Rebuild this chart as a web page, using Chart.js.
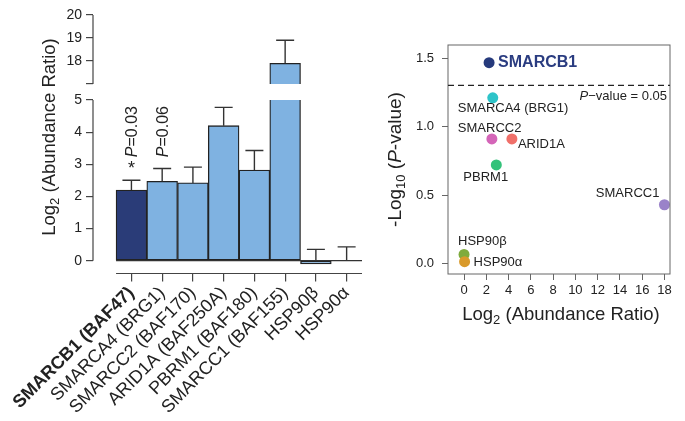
<!DOCTYPE html>
<html>
<head>
<meta charset="utf-8">
<script src="https://cdn.jsdelivr.net/npm/chart.js@4.4.0/dist/chart.umd.min.js"></script>
<style>
    body { margin: 0; background: #fff; }
    #wrap { position: relative; width: 685px; height: 421px; }
    canvas { position: absolute; top: 0; }
</style>
</head>
<body>
<div id="wrap">
    <canvas id="barLow" width="380" height="421" style="left:0"></canvas>
    <canvas id="barHigh" width="380" height="421" style="left:0"></canvas>
    <canvas id="volcano" width="305" height="421" style="left:380px"></canvas>
</div>
<script>
// bar chart (left)
const categories = ['SMARCB1 (BAF47)', 'SMARCA4 (BRG1)', 'SMARCC2 (BAF170)', 'ARID1A (BAF250A)',
    'PBRM1 (BAF180)', 'SMARCC1 (BAF155)', 'HSP90β', 'HSP90α'];
const ratios = [2.2, 2.47, 2.42, 4.2, 2.82, 17.9, -0.1, 0.0];
const ratioErrTop = [2.5, 2.87, 2.91, 4.77, 3.43, 18.9, 0.35, 0.43];
const pLabels = ['P=0.03', 'P=0.06'];
const lowTicks = [0, 1, 2, 3, 4, 5];
const highTicks = [17, 18, 19, 20];

// volcano plot (right)
const proteins = ['SMARCB1', 'SMARCA4 (BRG1)', 'SMARCC2', 'ARID1A', 'PBRM1', 'SMARCC1', 'HSP90β', 'HSP90α'];
const log2Ratio = [2.25, 2.58, 2.5, 4.3, 2.9, 18.0, 0.0, 0.05];
const negLogP = [1.466, 1.21, 0.91, 0.91, 0.72, 0.43, 0.068, 0.015];
const xTicks = [0, 2, 4, 6, 8, 10, 12, 14, 16, 18];
const yTicks = [0, 0.5, 1.0, 1.5];
const pCutoff = 1.301;

const FONT = "'Liberation Sans', Arial, sans-serif";
const TEXT = '#222';
const AXIS = '#444';
const barColors = categories.map((c, i) => i === 0 ? '#2a3c78' : '#7fb2e1');
const dotColors = ['#263a7c', '#2ec4c9', '#d465b8', '#f0706a', '#34c27a', '#9a82c9', '#7eab3c', '#d99a2b'];

// draw text made of pieces (subscript / italic / bold)
function richText(ctx, parts, x, y, size, align) {
    let widths = parts.map(p => {
        ctx.font = fontOf(p, size);
        return ctx.measureText(p.t).width;
    });
    let total = widths.reduce((a, b) => a + b, 0);
    let cx = align === 'center' ? x - total / 2 : align === 'right' ? x - total : x;
    parts.forEach((p, i) => {
        ctx.font = fontOf(p, size);
        ctx.fillText(p.t, cx, p.sub ? y + size * 0.3 : y);
        cx += widths[i];
    });
}
function fontOf(p, size) {
    let s = p.sub ? Math.round(size * 0.68) : size;
    return (p.it ? 'italic ' : '') + (p.b ? 'bold ' : '') + s + 'px ' + FONT;
}

const barAxes = {
    id: 'barAxes',
    afterDatasetsDraw(chart, args, opts) {
        const ctx = chart.ctx;
        const x = chart.scales.x, y = chart.scales.y;
        const area = chart.chartArea;
        ctx.save();
        ctx.strokeStyle = AXIS;
        ctx.lineWidth = 1.2;
        // y axis line, only across the ticks range
        ctx.beginPath();
        ctx.moveTo(area.left, y.getPixelForValue(opts.yFrom));
        ctx.lineTo(area.left, y.getPixelForValue(opts.yTo));
        ctx.stroke();
        ctx.beginPath();
        ctx.rect(area.left, area.top, area.right - area.left, area.bottom - area.top);
        ctx.clip();
        // error bars
        ctx.strokeStyle = '#333';
        ctx.lineWidth = 1.4;
        ratios.forEach((v, i) => {
            let px = x.getPixelForValue(i);
            let top = y.getPixelForValue(ratioErrTop[i]);
            ctx.beginPath();
            ctx.moveTo(px, y.getPixelForValue(Math.max(v, 0)));
            ctx.lineTo(px, top);
            ctx.moveTo(px - 9, top);
            ctx.lineTo(px + 9, top);
            ctx.stroke();
        });
        if (opts.low) {
            // zero line and x axis
            ctx.strokeStyle = '#333';
            ctx.lineWidth = 1.2;
            ctx.beginPath();
            ctx.moveTo(x.getPixelForValue(-0.5), y.getPixelForValue(0));
            ctx.lineTo(x.getPixelForValue(7.5), y.getPixelForValue(0));
            ctx.stroke();
            ctx.restore();
            ctx.save();
            ctx.strokeStyle = AXIS;
            ctx.lineWidth = 1.2;
            ctx.beginPath();
            ctx.moveTo(x.getPixelForValue(-0.5), area.bottom);
            ctx.lineTo(x.getPixelForValue(7.5), area.bottom);
            ctx.stroke();
            // P-value notes
            ctx.fillStyle = TEXT;
            ctx.textBaseline = 'middle';
            pLabels.forEach((t, i) => {
                ctx.save();
                ctx.translate(x.getPixelForValue(i) + 1, y.getPixelForValue(3.22));
                ctx.rotate(-Math.PI / 2);
                richText(ctx, [{t: 'P', it: true}, {t: t.slice(1)}], 0, 0, 16, 'left');
                ctx.restore();
            });
            ctx.font = '18px ' + FONT;
            ctx.textAlign = 'center';
            ctx.fillText('*', x.getPixelForValue(0), y.getPixelForValue(2.86));
            ctx.textAlign = 'left';
            // y title
            ctx.save();
            ctx.translate(50, 137);
            ctx.rotate(-Math.PI / 2);
            richText(ctx, [{t: 'Log'}, {t: '2', sub: true}, {t: ' (Abundance Ratio)'}], 0, 0, 18.5, 'center');
            ctx.restore();
        }
        ctx.restore();
    }
};

function barChart(id, low) {
    return new Chart(document.getElementById(id), {
        type: 'bar',
        data: {
            datasets: [{
                data: ratios.map((v, i) => ({x: i, y: v})),
                backgroundColor: barColors,
                borderColor: '#222',
                borderWidth: 1.3,
                borderSkipped: false,
                barPercentage: 1,
                categoryPercentage: 1,
                clip: 0
            }]
        },
        options: {
            responsive: false,
            animation: false,
            events: [],
            layout: { padding: low ? { top: 100, right: 18 } : { top: 15, right: 18, bottom: 337 } },
            plugins: {
                legend: { display: false },
                tooltip: { enabled: false },
                barAxes: low ? { low: true, yFrom: 0, yTo: 5 } : { low: false, yFrom: 17, yTo: 20 }
            },
            scales: {
                x: {
                    type: 'linear',
                    display: low,
                    offset: false,
                    min: -1.25,
                    max: 7.5,
                    afterBuildTicks: s => { s.ticks = categories.map((c, i) => ({value: i})); },
                    afterFit: s => {
                        s.height = low ? 147.5 : 0;
                        s.paddingLeft = 0;
                        s.paddingRight = 0;
                    },
                    border: { display: false },
                    grid: { offset: false, drawOnChartArea: false, tickLength: 8, color: AXIS, lineWidth: 1.2 },
                    ticks: {
                        autoSkip: false,
                        minRotation: 45,
                        maxRotation: 45,
                        padding: 1,
                        color: TEXT,
                        callback: v => categories[v],
                        font: c => ({ family: FONT, size: 18, weight: c.index === 0 ? 'bold' : 'normal' })
                    }
                },
                y: {
                    min: low ? -0.4 : 17,
                    max: low ? 5 : 20,
                    afterBuildTicks: s => { s.ticks = (low ? lowTicks : highTicks).map(v => ({value: v})); },
                    afterFit: s => { s.width = 93; },
                    border: { display: false },
                    grid: { drawOnChartArea: false, tickLength: 7, color: AXIS, lineWidth: 1.2 },
                    ticks: {
                        padding: 4,
                        color: TEXT,
                        font: { family: FONT, size: 14 },
                        callback: v => (v === 17 ? '' : v)
                    }
                }
            }
        },
        plugins: [barAxes]
    });
}

barChart('barLow', true);
barChart('barHigh', false);

const volcanoDeco = {
    id: 'volcanoDeco',
    afterDatasetsDraw(chart) {
        const ctx = chart.ctx;
        const x = chart.scales.x, y = chart.scales.y;
        const a = chart.chartArea;
        ctx.save();
        ctx.strokeStyle = '#666';
        ctx.lineWidth = 1;
        ctx.strokeRect(a.left, a.top, a.right - a.left, a.bottom - a.top);
        // significance line
        ctx.strokeStyle = '#222';
        ctx.lineWidth = 1.3;
        ctx.setLineDash([6, 4]);
        ctx.beginPath();
        ctx.moveTo(a.left, y.getPixelForValue(pCutoff));
        ctx.lineTo(a.right, y.getPixelForValue(pCutoff));
        ctx.stroke();
        ctx.setLineDash([]);
        ctx.fillStyle = TEXT;
        ctx.textBaseline = 'middle';
        richText(ctx, [{t: 'P', it: true}, {t: '\u2212value = 0.05'}], a.right - 3, y.getPixelForValue(pCutoff) + 11, 13, 'right');
        // point labels
        const place = [[9, 0, 'left'], [-35, 11, 'left'], [-34, -11, 'left'], [6, 5, 'left'],
            [-33, 12, 'left'], [-5, -11, 'right'], [-6, -13, 'left'], [9, 1, 'left']];
        proteins.forEach((n, i) => {
            let px = x.getPixelForValue(log2Ratio[i]) + place[i][0];
            let py = y.getPixelForValue(negLogP[i]) + place[i][1];
            if (i === 0) {
                ctx.fillStyle = '#2a3c80';
                richText(ctx, [{t: n, b: true}], px, py, 16, 'left');
                ctx.fillStyle = TEXT;
            } else {
                richText(ctx, [{t: n}], px, py, 13, place[i][2]);
            }
        });
        // axis titles
        richText(ctx, [{t: 'Log'}, {t: '2', sub: true}, {t: ' (Abundance Ratio)'}], (a.left + a.right) / 2 + 2, 315, 18.5, 'center');
        ctx.save();
        ctx.translate(16, (a.top + a.bottom) / 2);
        ctx.rotate(-Math.PI / 2);
        richText(ctx, [{t: '-Log'}, {t: '10', sub: true}, {t: ' ('}, {t: 'P', it: true}, {t: '-value)'}], 0, 0, 19, 'center');
        ctx.restore();
        ctx.restore();
    }
};

new Chart(document.getElementById('volcano'), {
    type: 'scatter',
    data: {
        datasets: [{
            data: log2Ratio.map((v, i) => ({x: v, y: negLogP[i]})),
            backgroundColor: dotColors,
            borderWidth: 0,
            pointRadius: 5.5
        }]
    },
    options: {
        responsive: false,
        animation: false,
        events: [],
        layout: { padding: { top: 45, right: 15, bottom: 107 } },
        plugins: { legend: { display: false }, tooltip: { enabled: false } },
        scales: {
            x: {
                type: 'linear',
                min: -1.44,
                max: 18.5,
                afterBuildTicks: s => { s.ticks = xTicks.map(v => ({value: v})); },
                afterFit: s => { s.height = 40; },
                border: { display: false },
                grid: { drawOnChartArea: false, tickLength: 6, color: '#666' },
                ticks: { padding: 3, color: TEXT, font: { family: FONT, size: 13 } }
            },
            y: {
                min: -0.075,
                max: 1.595,
                afterBuildTicks: s => { s.ticks = yTicks.map(v => ({value: v})); },
                afterFit: s => { s.width = 68; },
                border: { display: false },
                grid: { drawOnChartArea: false, tickLength: 6, color: '#666' },
                ticks: { padding: 8, color: TEXT, font: { family: FONT, size: 13 }, callback: v => v.toFixed(1) }
            }
        }
    },
    plugins: [volcanoDeco]
});
</script>
</body>
</html>
